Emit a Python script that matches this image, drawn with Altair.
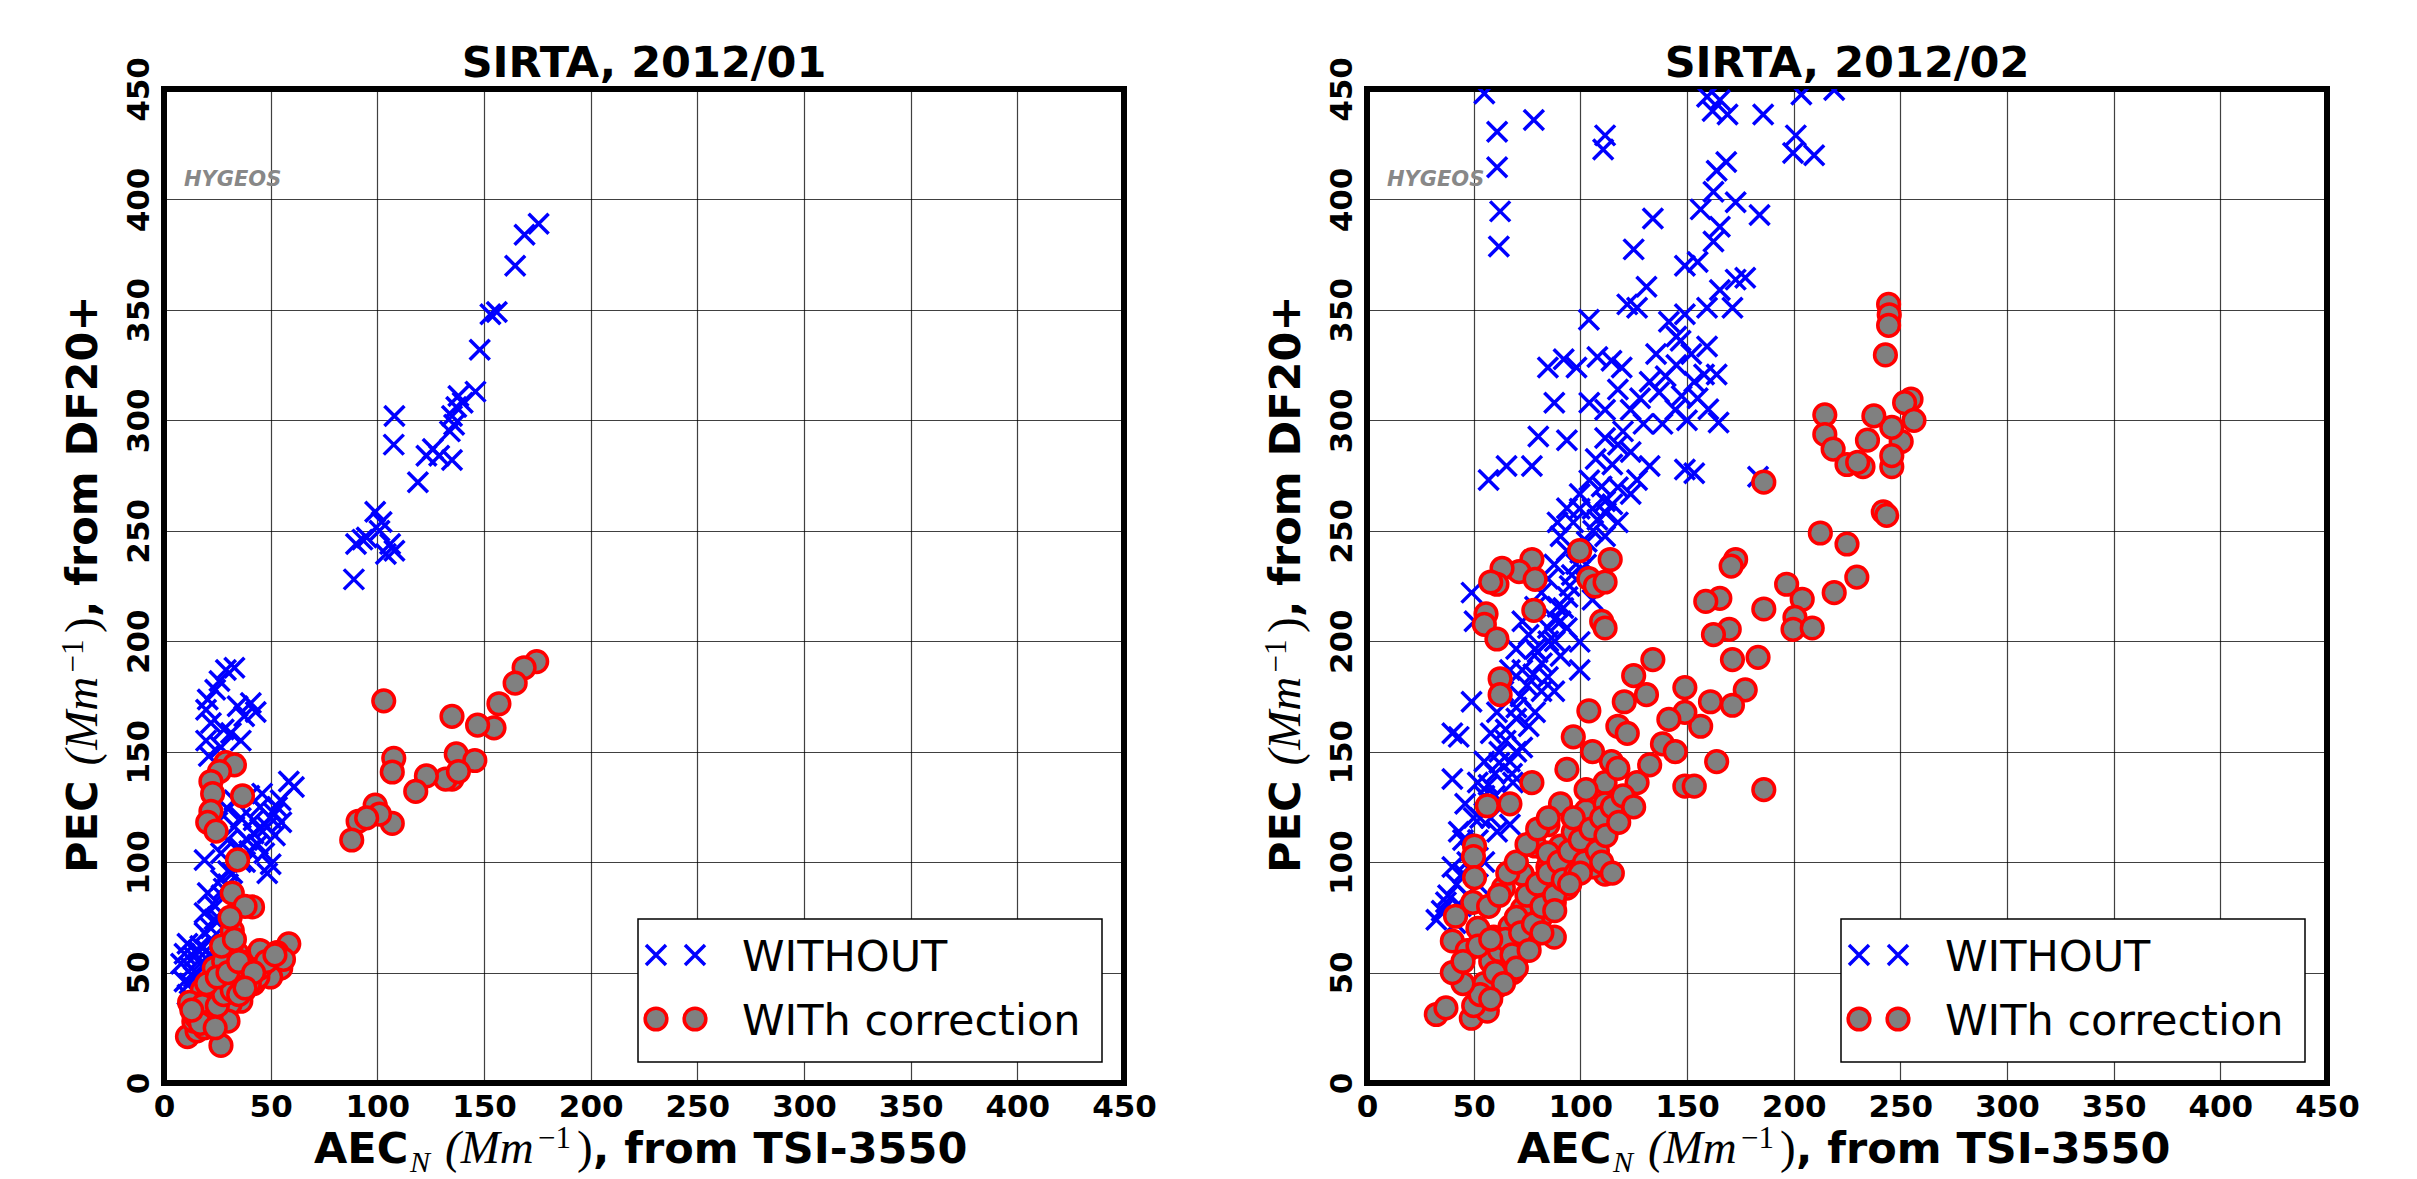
import altair as alt
import pandas as pd

# ---------------- data ----------------
TICKS = [0, 50, 100, 150, 200, 250, 300, 350, 400, 450]

# SIRTA 2012/01 - WITHOUT correction
jan_wo_x = [175.6, 169, 164.6, 156, 153, 148, 146, 138, 137, 135, 140, 136, 134, 135, 129, 123, 126, 119, 108, 107.7,
            99, 102, 101, 93, 90, 95, 106, 108, 104, 89,
            29, 33, 26, 24, 20.5, 19.7, 22, 34.5, 40.7, 37.6, 31.4, 19.7, 36, 26.7, 43, 28, 21,
            58.5, 60.9, 54.7, 51.6, 48.4, 45, 42, 42, 39, 36, 33, 29.8, 26.7, 19, 47, 48.4, 50, 26.7, 20.5,
            19, 23.6, 19, 11, 9.6, 8, 12.7, 14, 9.6, 11, 24, 30, 35, 38, 44, 52, 55, 22, 16, 28, 33, 25, 30, 40, 46,
            12, 15, 18, 20, 22, 25, 27, 30, 32, 36, 40, 45, 50, 53, 14, 17]
jan_wo_y = [389, 384, 370, 349, 348, 332, 313, 311, 306, 302, 308, 298, 295, 282, 284, 284, 287, 272, 302, 289,
            258.6, 254, 250, 246, 244, 247, 244, 241, 239.5, 228,
            187, 188, 182, 178, 173.6, 169, 163, 170.6, 172, 166, 158.5, 155, 155, 152, 168, 160, 148,
            136.5, 134, 128, 122, 116, 125, 119, 113, 110, 120, 116, 110, 104, 101, 104, 95, 99, 92, 86,
            77, 74, 68, 63, 58.5, 54, 52, 57, 46, 40, 80, 96, 107, 100, 108, 112, 118, 65, 60, 88, 128, 118, 124, 130, 131,
            45, 50, 55, 60, 70, 75, 85, 90, 95, 100, 105, 115, 120, 125, 48, 62]

# SIRTA 2012/01 - WITh correction
jan_wi_x = [174.7, 168.8, 164.6, 157, 154.7, 147, 135, 103, 137, 145.7, 135, 132, 138, 123, 118, 107.7, 107, 99, 107,
            91, 88, 101, 95,
            29, 33, 26, 22, 22.8, 36.8, 22, 20.5, 24.4, 34.5, 32, 41.5, 38, 32, 31, 58.5, 53, 46, 48.4, 42, 37.6,
            31, 28, 18, 12, 26.7, 11, 15.5, 26.7, 36, 23.6, 34.5, 31, 20.5, 19, 31.4, 54.7, 50, 44, 40, 28, 25,
            35, 14, 20, 30, 38, 45, 56, 27, 33, 22,
            15, 18, 22, 25, 28, 32, 35, 40, 45, 48, 52, 20, 25, 30, 35, 42, 38, 17, 24, 13]
jan_wi_y = [190.8, 188, 181, 171.7, 160.8, 162, 166, 173, 149, 146, 137.6, 137.6, 141, 139, 132, 147, 140.8, 125.8,
            117.5, 118.5, 110, 121.7, 120,
            145, 144, 141, 136.5, 131, 130, 123, 118, 114, 101, 86, 79.7, 80, 69, 75, 63, 59, 54.7, 49, 45, 42,
            49, 45, 42, 36.5, 30, 21, 23.6, 17, 37, 52, 58.5, 35.8, 32.7, 25, 60, 52, 48, 48, 55, 55, 40,
            45, 28, 38, 28, 50, 60, 56, 62, 65, 30,
            30, 35, 28, 35, 40, 42, 40, 45, 52, 55, 58, 45, 48, 50, 55, 50, 43, 27, 25, 33]

# SIRTA 2012/02 - WITHOUT correction
feb_wo_x = [55, 61, 78.2, 61, 62.4, 61.8, 111.6, 110.7, 159.4, 165.4, 169, 162, 185.7, 203.6, 201, 199.7, 209.6, 219,
            184, 172.8, 177.3, 168.4, 163.9, 162.4, 156.4, 165.4, 172.8, 162.4, 155, 149, 165.4, 171.3, 159.4,
            134, 125, 131, 126.6, 122, 104, 149, 141.5, 147, 152, 159.4, 153.4, 158, 163.9, 145, 135.5, 132.5,
            136.9, 147.5, 144.5, 164.8, 149, 153.4, 84.8, 92.2, 98.2, 108, 114.6, 119.4, 87.8, 104.2, 80.3, 93.7,
            117.6, 111.6, 123.6, 129.6, 138.5, 111.6, 117.6, 123.6, 132.5, 65.4, 77.3, 57, 126.6, 117.6, 111.6,
            105.7, 99.7, 96.7, 90.7, 93.7, 87.8, 84.8, 81.8, 78.8, 72.8, 75.8, 69.9, 67, 63.9, 60.9, 58, 55,
            51.9, 46, 43, 40, 37, 32.5, 41.5, 49, 50.4, 49, 40, 43, 40, 99.7, 93.7, 99.7, 90.7, 84.8, 87.8,
            78.8, 75.8, 72.8, 67, 63.9, 67, 61, 68.4, 81.8, 90.7, 89.3, 84.8, 78.8, 72.8, 105.7, 108.7, 102.7,
            111.6, 117.6, 123.6, 107.2, 104.2, 99.7, 93.7, 89.3, 183.3, 96, 94, 88, 82, 70, 65, 62, 57, 53, 48,
            45, 55, 52, 47, 110, 115, 120, 128, 140, 145, 155, 160, 150,
            45, 50, 55, 60, 62, 65, 70, 72, 75, 78, 80, 85, 88, 92, 95, 98, 100, 103, 106, 108, 112, 115,
            70, 68, 58, 52, 47, 42, 38, 35, 44, 50, 60]
feb_wo_y = [448, 430.6, 436, 414.6, 394.6, 378.7, 429, 422.6, 446.5, 445, 438.5, 440, 438.5, 447.5, 429, 421, 420, 449.5,
            393, 363.7, 364.6, 417, 413, 403.5, 395.5, 387.6, 398.7, 381, 371.7, 370, 359, 351, 351,
            391.4, 377.4, 360.5, 351, 352.5, 345.5, 348, 344.6, 336, 330, 333.4, 317.5, 320.7, 320.7, 338, 330, 317.5,
            312.7, 311, 304.8, 299, 277.7, 276, 323.9, 327.7, 323.9, 328.7, 327, 323.9, 308, 308, 292.7, 291,
            314, 304.8, 304.8, 298.4, 298.4, 292, 288.9, 285.7, 279.3, 279.3, 279.3, 273, 273, 269.7, 263.4,
            260, 260, 253.8, 247.5, 241, 234.7, 228.3, 222, 215.6, 209, 202.9, 196.5, 187, 177.4, 167.8, 158.3, 145.5,
            136, 126.4, 113.7, 97.8, 81.8, 73.9, 72.3, 222, 209, 172.6, 158.3, 156.7, 137.6, 187, 206, 199.7, 193.3, 183.8, 177.4,
            167.8, 161.5, 151.9, 145.5, 126.4, 117, 113.7, 136, 177.4, 209, 215.6, 206, 196.5, 187, 218.8, 228.3, 234.7,
            247.5, 253.8, 266.6, 282.5, 272.9, 266.6, 260.2, 253.8, 274.5, 230, 220, 200, 190, 170, 160, 150, 135, 120, 105,
            95, 100, 90, 85, 270, 280, 295, 310, 320, 325, 310, 305, 300,
            110, 120, 130, 140, 145, 155, 165, 175, 180, 185, 195, 200, 210, 215, 225, 235, 240, 245, 250, 255, 258, 262,
            150, 140, 120, 110, 100, 90, 85, 78, 80, 95, 130]

# SIRTA 2012/02 - WITh correction
feb_wi_x = [244.5, 244.8, 244.5, 243, 255, 252, 256.4, 250.4, 246, 246, 246, 237.6, 234.6, 214.6, 214.6, 218.5, 225,
            232.5, 230, 186, 242, 243.6, 212.5, 225, 229.6, 219, 196.7, 204, 200.6, 199.7, 208.7, 186, 183.3, 186,
            172.8, 170.7, 165.4, 158.8, 169.8, 162.4, 171.3, 177.3, 171.3, 161, 156.4, 149, 149, 163.9, 149, 153.4,
            134, 125, 131, 120.6, 104, 96.7, 105.7, 117.6, 122, 141.5, 138.5, 144.5, 132.5, 114.6, 111.6, 126.6,
            93.7, 77.3, 67, 56.4, 99.7, 114, 104, 107, 111.6, 110, 111.6, 77.3, 71.3, 63.3, 60.9, 58, 78.8, 78.2,
            55.8, 55, 60.9, 62.4, 62.4, 50.4, 49.9, 50.4, 49.6, 41.5, 40, 32.5, 37, 48.9, 56.4, 55, 87.8, 75.8,
            68.4, 67, 72.8, 78.8, 84.8, 90.7, 96.7, 102.7, 108.7, 114.6, 111.6, 105.7, 99.7, 93.7, 87.8, 81.8,
            75.8, 69.9, 63.9, 60.9, 59.4, 63.9, 72.8, 78.8, 84.8, 90.7, 96.7, 102.7, 117.6, 120.6, 111.6, 84.8,
            55, 58, 62, 65, 70, 75, 80, 85, 90, 95, 100, 105, 110, 115, 120, 60, 68, 72, 78, 82, 88, 92, 98, 102,
            108, 112, 118, 125, 50, 53, 45, 47, 52, 57, 62, 66, 70, 75, 80, 85, 40, 45, 52, 58, 100, 110, 115,
            95, 88, 82, 76, 70, 64, 58]
feb_wi_y = [352.5, 347.8, 343, 329.6, 309.6, 308, 300, 290.4, 296.8, 279, 284, 302, 291, 302.5, 293.6, 287, 280,
            279, 281, 272, 258.6, 257, 249, 244, 229, 222, 225.8, 219, 210.8, 205.4, 206, 214.6, 192.7, 132.8,
            237, 234, 219.4, 218, 205.4, 203, 191.7, 178, 171, 172.6, 161.5, 179, 167.8, 145.5, 134.4, 134.4,
            191.7, 184.4, 175.8, 172.6, 168.5, 156.7, 150, 161.5, 158.3, 164.6, 153.5, 150, 144, 145.5, 136, 136,
            142, 136, 126.4, 125.5, 241, 237, 228.3, 225, 226.8, 209, 206, 237, 231.5, 233, 225.8, 226.8, 228, 214,
            212.4, 207.6, 201, 183, 175.8, 107.3, 102.5, 93, 81.8, 75.5, 64.3, 31, 34, 29.3, 32.5, 38.8, 66, 70.7,
            50, 70.7, 78.7, 88.2, 97.8, 107.3, 113.7, 123.2, 113.7, 116.9, 94.6, 97.8, 101, 88.2, 81.8, 75.5,
            62.7, 56.4, 50, 43.6, 66, 88.2, 94.6, 107.3, 116.9, 126.4, 120, 132.8, 142.4, 126.4, 126.4, 104.1,
            45, 55, 60, 65, 75, 85, 90, 95, 100, 105, 110, 115, 120, 125, 130, 50, 58, 68, 72, 80, 85, 92, 95, 100,
            105, 112, 118, 125, 35, 40, 45, 60, 70, 80, 85, 95, 100, 108, 115, 120, 50, 55, 62, 65, 95, 100, 95,
            90, 78, 68, 60, 52, 45, 38]

LEGEND_LABELS = ["WITHOUT", "WITh correction"]
TITLES = ["SIRTA, 2012/01", "SIRTA, 2012/02"]

# ---------------- styling ----------------
W, H = 960, 994
BLUE = "#0000ff"
RED = "#ff0000"
GRAY = "#808080"
XSHAPE = "M-1,-1L1,1M-1,1L1,-1"
SANS = "DejaVu Sans"
SERIF = "Liberation Serif"


def one(text):
    return pd.DataFrame({"t": [text]})


def txt(text, x, y, size, font=SANS, weight="bold", style="normal", angle=0, color="black", align="left"):
    return alt.Chart(one(text)).mark_text(
        font=font, fontSize=size, fontWeight=weight, fontStyle=style, angle=angle,
        align=align, baseline="alphabetic", color=color,
    ).encode(x=alt.value(x), y=alt.value(y), text="t:N")


def panel(wo_x, wo_y, wi_x, wi_y, title):
    df_wo = pd.DataFrame({"aec": wo_x, "pec": wo_y})
    df_wi = pd.DataFrame({"aec": wi_x, "pec": wi_y})
    xs = alt.Scale(domain=[0, 450], nice=False, zero=False)
    ys = alt.Scale(domain=[0, 450], nice=False, zero=False)
    xaxis = alt.Axis(values=TICKS, title=None, grid=True, ticks=False, tickSize=0, domain=False,
                     labelFont=SANS, labelFontWeight="bold", labelFontSize=31, labelPadding=9,
                     labelFlush=False, labelOverlap=False, labelColor="black",
                     gridColor="black", gridOpacity=0.75, gridWidth=1.2)
    yaxis = alt.Axis(values=TICKS, title=None, grid=True, ticks=False, tickSize=0, domain=False,
                     labelFont=SANS, labelFontWeight="bold", labelFontSize=31, labelPadding=16,
                     labelAngle=270, labelAlign="center", labelBaseline="alphabetic",
                     labelFlush=False, labelOverlap=False, labelColor="black",
                     gridColor="black", gridOpacity=0.75, gridWidth=1.2)

    blue = alt.Chart(df_wo).mark_point(
        shape=XSHAPE, filled=False, color=BLUE, strokeWidth=3.5, size=400, opacity=1, clip=True
    ).encode(x=alt.X("aec:Q", scale=xs, axis=xaxis), y=alt.Y("pec:Q", scale=ys, axis=yaxis))

    red = alt.Chart(df_wi).mark_point(
        shape="circle", filled=True, fill=GRAY, stroke=RED, strokeWidth=3.5, size=470, opacity=1, clip=True
    ).encode(x=alt.X("aec:Q", scale=xs), y=alt.Y("pec:Q", scale=ys))

    ttl = txt(title, W / 2, -12, 43, align="center")
    hyg = txt("HYGEOS", 20, 97, 21, style="italic", color="#888888")

    # legend (matplotlib-like, inside lower right)
    box = alt.Chart(one("box")).mark_rect(fill="white", stroke="black", strokeWidth=1.5).encode(
        x=alt.value(W - 486), x2=alt.value(W - 22), y=alt.value(H - 164), y2=alt.value(H - 21))
    leg_marks = []
    for mx in (W - 468, W - 429):
        leg_marks.append(alt.Chart(one("b")).mark_point(
            shape=XSHAPE, filled=False, color=BLUE, strokeWidth=3.5, size=400, opacity=1
        ).encode(x=alt.value(mx), y=alt.value(H - 128)))
        leg_marks.append(alt.Chart(one("r")).mark_point(
            shape="circle", filled=True, fill=GRAY, stroke=RED, strokeWidth=3.5, size=470, opacity=1
        ).encode(x=alt.value(mx), y=alt.value(H - 64)))
    leg_t1 = txt(LEGEND_LABELS[0], W - 382, H - 112, 43, weight="normal")
    leg_t2 = txt(LEGEND_LABELS[1], W - 382, H - 48, 43, weight="normal")

    # x axis title: AEC_N (Mm^-1), from TSI-3550
    bx = H + 80
    cx = W / 2
    x_parts = [
        txt("AEC", cx - 330, bx, 43),
        txt("N", cx - 234, bx + 9, 30, font=SERIF, weight="normal", style="italic"),
        txt("(Mm", cx - 199, bx, 47, font=SERIF, weight="normal", style="italic"),
        txt("\u22121", cx - 106, bx - 15, 31, font=SERIF, weight="normal"),
        txt(")", cx - 67, bx, 47, font=SERIF, weight="normal"),
        txt(", from TSI-3550", cx - 51, bx, 43),
    ]
    # y axis title: PEC (Mm^-1), from DF20+
    by = -67
    y0 = H / 2 + 287
    y_parts = [
        txt("PEC", by, y0, 43, angle=270),
        txt("(Mm", by, y0 - 107.5, 47, font=SERIF, weight="normal", style="italic", angle=270),
        txt("\u22121", by - 14, y0 - 200.5, 31, font=SERIF, weight="normal", angle=270),
        txt(")", by, y0 - 240, 47, font=SERIF, weight="normal", angle=270),
        txt(", from DF20+", by, y0 - 256, 43, angle=270),
    ]

    layers = [blue, red, ttl, hyg, box] + leg_marks + [leg_t1, leg_t2] + x_parts + y_parts
    return alt.layer(*layers).properties(width=W, height=H)


left = panel(jan_wo_x, jan_wo_y, jan_wi_x, jan_wi_y, TITLES[0])
right = panel(feb_wo_x, feb_wo_y, feb_wi_x, feb_wi_y, TITLES[1])

chart = alt.hconcat(left, right, spacing=98).properties(
    padding={"left": 47, "top": 32, "right": 5, "bottom": 0},
    background="white",
).configure_view(stroke="black", strokeWidth=6).configure_concat(spacing=98)

chart.save("out.html", embed_options={"renderer": "svg", "actions": False})
